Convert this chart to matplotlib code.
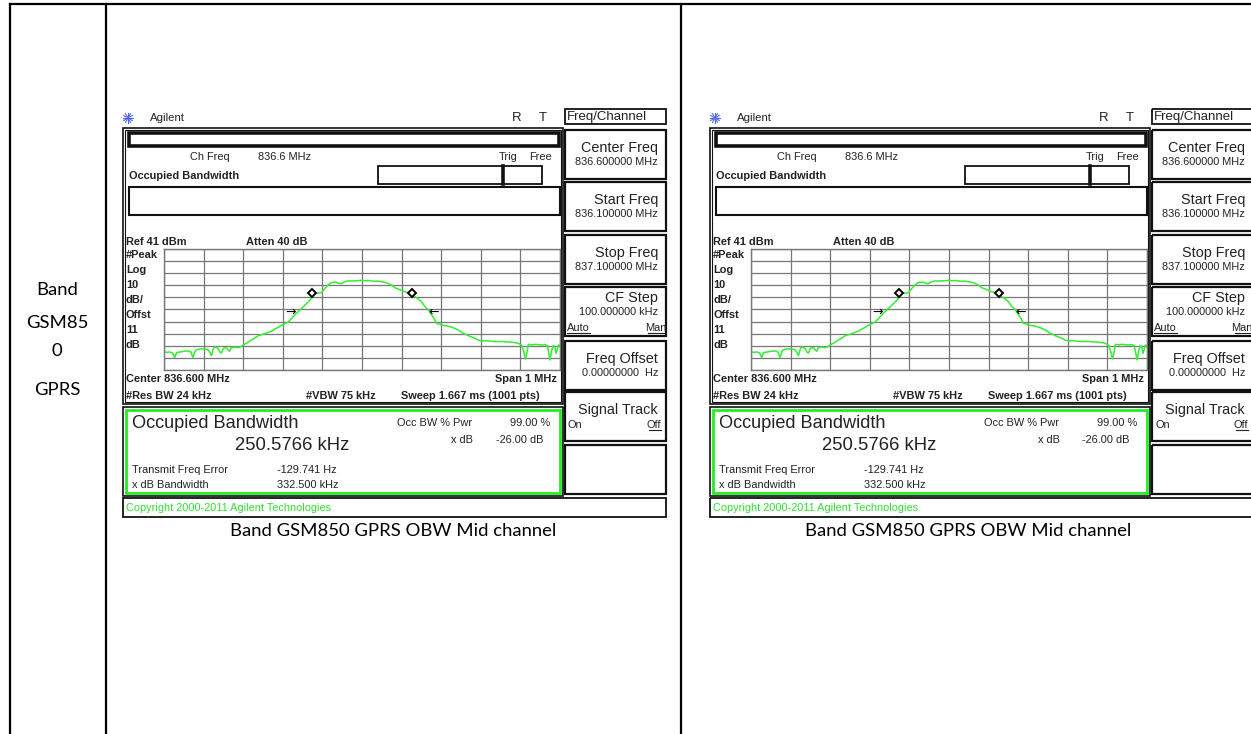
import math
import matplotlib
matplotlib.use('Agg')
import matplotlib.pyplot as plt
from matplotlib.patches import Rectangle

W, H = 1251, 734

# analyser trace: offset from 836.6 MHz (kHz) and level (dBm)
trace_khz = [-500, -492, -486, -478, -473, -468, -460, -450, -439, -432, -427, -421,
             -414, -405, -397, -390, -384, -380, -376, -372, -364, -358, -355, -350,
             -342, -338, -334, -330, -321, -313, -305, -300, -290, -279, -270, -262,
             -250, -237, -228, -220, -210, -203, -198, -195, -187, -178, -166, -155,
             -144, -135, -128, -122, -119, -110, -102, -95, -86, -80, -73, -65, -60,
             -52, -45, -35, -20, -1, 10, 16, 30, 40, 49, 58, 66, 75, 83, 95, 108, 118,
             123, 132, 142, 150, 159, 168, 176, 182, 188, 195, 201, 210, 218, 230, 243,
             255, 268, 275, 285, 293, 302, 315, 327, 340, 353, 365, 378, 388, 395, 403,
             408, 413, 417, 420, 430, 437, 445, 454, 462, 468, 471, 475, 479, 483, 487,
             490, 493, 496, 500]
trace_dbm = [-43.8, -44.5, -44.0, -45.0, -48.8, -44.5, -44.2, -43.5, -43.3, -44.0, -48.8, -43.0,
             -41.8, -41.5, -41.6, -42.0, -44.5, -47.2, -42.0, -39.9, -41.0, -44.5, -45.0, -41.0,
             -40.5, -42.5, -43.5, -40.5, -40.0, -40.5, -39.7, -38.3, -36.5, -34.2, -32.5, -30.6,
             -29.5, -27.9, -26.8, -25.1, -23.5, -21.8, -21.5, -20.5, -19.6, -16.5, -12.2, -9.0,
             -5.3, -2.5, 0.2, 3.5, 4.4, 4.6, 5.0, 8.0, 11.2, 12.8, 13.5, 13.6, 12.8,
             12.3, 13.8, 14.6, 14.6, 15.1, 14.8, 15.0, 14.3, 14.5, 14.0, 13.4, 12.6, 11.0, 9.0, 7.5, 5.7, 4.8,
             4.2, 2.0, -0.3, -2.5, -6.7, -9.5, -13.5, -16.5, -20.4, -21.0, -21.8, -22.3, -22.8, -24.0, -25.9,
             -28.5, -30.6, -31.5, -32.8, -34.2, -35.0, -34.8, -35.3, -35.5, -35.4, -35.8, -36.0, -36.5, -37.0, -38.5,
             -43.0, -49.9, -44.0, -37.8, -38.2, -37.8, -38.0, -38.4, -38.0, -39.0, -44.0, -50.7, -43.0, -38.9, -40.0,
             -45.2, -42.0, -38.3, -39.5]
obw_khz = [-125.3, 125.3]
obw_dbm = [4.8, 4.4]
xdb_khz = [-166.25, 166.25]
xdb_dbm = [-11.3, -11.3]

row_label = ['Band', 'GSM85', '0', 'GPRS']
caption = 'Band GSM850 GPRS OBW Mid channel'
side_labels = ['#Peak', 'Log', '10', 'dB/', 'Offst', '11', 'dB']
softkeys = ['Center Freq', 'Start Freq', 'Stop Freq', 'CF Step', 'Freq Offset', 'Signal Track']
softkey_values = ['836.600000 MHz', '836.100000 MHz', '837.100000 MHz', '100.000000 kHz',
                  '0.00000000  Hz', '']

SCREEN = 'Liberation Sans'
DOC = 'Lato'
GREEN = '#33ee33'
SMALL = 7.9
BOLD = 7.9


def box(ax, x0, y0, x1, y1, lw=1.5, color='#111111'):
    ax.add_patch(Rectangle((x0, y0), x1 - x0, y1 - y0, fill=False, lw=lw, ec=color))


def add_px_axes(fig, x0, y0, x1, y1):
    return fig.add_axes([x0 / W, 1 - y1 / H, (x1 - x0) / W, (y1 - y0) / H])


def draw_screen(fig, ax, dx):
    t = dict(family=SCREEN, color='#222222', va='center')
    # logo + header
    for a in range(0, 180, 30):
        r = 5
        c, s = math.cos(math.radians(a)), math.sin(math.radians(a))
        ax.plot([128 + dx - r * c, 128 + dx + r * c], [118 - r * s, 118 + r * s],
                color='#5566ee', lw=0.8)
    ax.text(150 + dx, 118, 'Agilent', fontsize=8.2, **t)
    ax.text(517 + dx, 118, 'R', fontsize=9.5, ha='center', **t)
    ax.text(543 + dx, 118, 'T', fontsize=9.5, ha='center', **t)

    # main frame
    box(ax, 123 + dx, 128, 563 + dx, 404, lw=1.2)
    box(ax, 125 + dx, 130, 561 + dx, 402, lw=0.8)
    box(ax, 129 + dx, 133, 559 + dx, 146, lw=2.6)
    ax.text(190 + dx, 157, 'Ch Freq', fontsize=SMALL, **t)
    ax.text(258 + dx, 157, '836.6 MHz', fontsize=SMALL, **t)
    ax.text(499 + dx, 157, 'Trig', fontsize=SMALL, **t)
    ax.text(552 + dx, 157, 'Free', fontsize=SMALL, ha='right', **t)
    ax.text(129 + dx, 176, 'Occupied Bandwidth', fontsize=BOLD, fontweight='bold', **t)
    box(ax, 378 + dx, 166, 542 + dx, 184, lw=1.3)
    ax.plot([503 + dx, 503 + dx], [166, 184], color='#111111', lw=2.6)
    box(ax, 129 + dx, 187, 560 + dx, 215, lw=1.5)

    ax.text(126 + dx, 242, 'Ref 41 dBm', fontsize=BOLD, fontweight='bold', **t)
    ax.text(246 + dx, 242, 'Atten 40 dB', fontsize=BOLD, fontweight='bold', **t)
    for i, s in enumerate(side_labels):
        ax.text(126 + dx, 255 + i * 15.0, s, fontsize=BOLD, fontweight='bold', **t)
    ax.text(126 + dx, 379, 'Center 836.600 MHz', fontsize=BOLD, fontweight='bold', **t)
    ax.text(557 + dx, 379, 'Span 1 MHz', fontsize=BOLD, fontweight='bold', ha='right', **t)
    ax.text(126 + dx, 396, '#Res BW 24 kHz', fontsize=BOLD, fontweight='bold', **t)
    ax.text(306 + dx, 396, '#VBW 75 kHz', fontsize=BOLD, fontweight='bold', **t)
    ax.text(540 + dx, 396, 'Sweep 1.667 ms (1001 pts)', fontsize=BOLD, fontweight='bold', ha='right', **t)

    # graticule + trace
    g = add_px_axes(fig, 164 + dx, 249, 560 + dx, 370)
    g.plot(trace_khz, trace_dbm, color=GREEN, lw=1.1)
    g.plot(obw_khz, obw_dbm, 'D', ms=4.2, mfc='white', mec='black', mew=1.4)
    g.text(xdb_khz[0] - 14, xdb_dbm[0], '\u2192', fontsize=9, ha='center', va='center', color='black')
    g.text(xdb_khz[1] + 14, xdb_dbm[1], '\u2190', fontsize=9, ha='center', va='center', color='black')
    g.set_xlim(-500, 500)
    g.set_ylim(-59, 41)
    g.set_xticks(range(-500, 501, 100))
    g.set_yticks(range(-59, 42, 10))
    g.tick_params(length=0, labelbottom=False, labelleft=False)
    g.grid(True, color='#777777', lw=0.9)
    for sp in g.spines.values():
        sp.set_color('#777777')
        sp.set_linewidth(1.0)

    # result box
    box(ax, 123 + dx, 407, 563 + dx, 496, lw=1.2)
    box(ax, 126 + dx, 410, 560 + dx, 493, lw=2.0, color='#22ee22')
    ax.text(132 + dx, 423, 'Occupied Bandwidth', fontsize=13.1, **t)
    ax.text(235 + dx, 445, '250.5766 kHz', fontsize=13.3, **t)
    ax.text(132 + dx, 470, 'Transmit Freq Error', fontsize=SMALL, **t)
    ax.text(277 + dx, 470, '-129.741 Hz', fontsize=SMALL, **t)
    ax.text(132 + dx, 485, 'x dB Bandwidth', fontsize=SMALL, **t)
    ax.text(277 + dx, 485, '332.500 kHz', fontsize=SMALL, **t)
    ax.text(397 + dx, 423, 'Occ BW % Pwr', fontsize=SMALL, **t)
    ax.text(550 + dx, 423, '99.00 %', fontsize=SMALL, ha='right', **t)
    ax.text(473 + dx, 440, 'x dB', fontsize=SMALL, ha='right', **t)
    ax.text(543 + dx, 440, '-26.00 dB', fontsize=SMALL, ha='right', **t)

    # copyright bar
    box(ax, 123 + dx, 498, 666 + dx, 517, lw=1.3)
    ax.text(126 + dx, 508, 'Copyright 2000-2011 Agilent Technologies', fontsize=SMALL,
            family=SCREEN, color='#33dd33', va='center')

    # softkeys
    box(ax, 565 + dx, 109, 666 + dx, 124, lw=1.3)
    ax.text(567 + dx, 117, 'Freq/Channel', fontsize=9.5, **t)
    tops = [130, 182, 235, 287, 341, 392]
    for name, val, top in zip(softkeys, softkey_values, tops):
        box(ax, 565 + dx, top, 666 + dx, top + 49, lw=1.6)
        ty = top + 11 if name == 'CF Step' else top + 18
        ax.text(658 + dx, ty, name, fontsize=10.4, ha='right', **t)
        if val:
            ax.text(658 + dx, ty + 14, val, fontsize=7.8, ha='right', **t)
    ax.text(567 + dx, 328, 'Auto', fontsize=SMALL, **t)
    ax.text(666 + dx, 328, 'Man', fontsize=SMALL, ha='right', **t)
    ax.plot([567 + dx, 590 + dx], [333, 333], color='#222222', lw=0.8)
    ax.plot([648 + dx, 666 + dx], [333, 333], color='#222222', lw=0.8)
    ax.text(568 + dx, 425, 'On', fontsize=SMALL, **t)
    ax.text(661 + dx, 425, 'Off', fontsize=SMALL, ha='right', **t)
    ax.plot([649 + dx, 661 + dx], [430, 430], color='#222222', lw=0.8)
    box(ax, 565 + dx, 445, 666 + dx, 494, lw=1.6)


fig = plt.figure(figsize=(W / 100, H / 100), dpi=100)
ax = fig.add_axes([0, 0, 1, 1])
ax.set_xlim(0, W)
ax.set_ylim(H, 0)
ax.axis('off')

# table rules
ax.plot([10, W], [4, 4], color='black', lw=1.6)
for x in (10, 106, 681):
    ax.plot([x, x], [4, H], color='black', lw=1.6)

for lab, y in zip(row_label, [290, 323, 351, 390]):
    ax.text(57, y, lab, family=DOC, fontsize=13.3, ha='center', va='center', color='black')

for dx, cx in ((0, 393), (587, 968)):
    draw_screen(fig, ax, dx)
    ax.text(cx, 531, caption, family=DOC, fontsize=13.3, ha='center', va='center', color='black')

fig.savefig('out.png', dpi=100)
